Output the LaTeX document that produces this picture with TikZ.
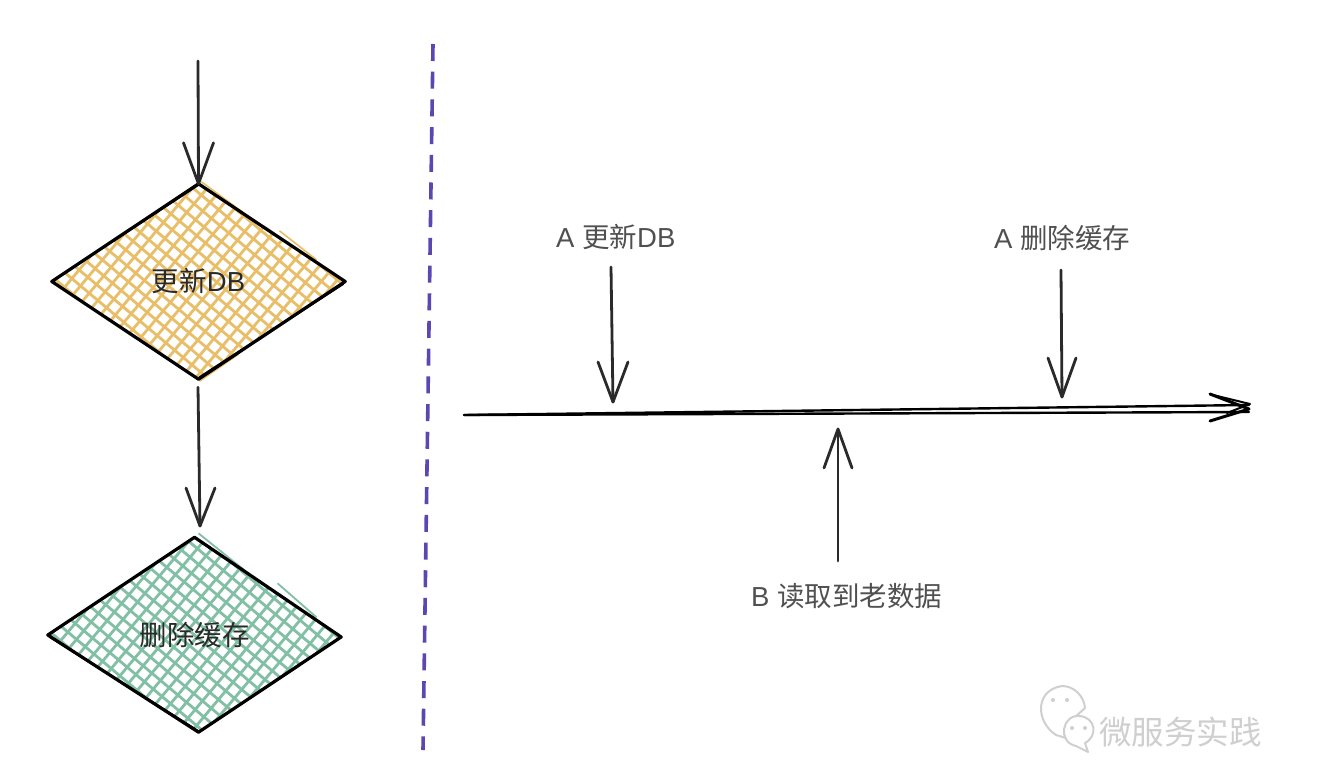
\documentclass[tikz,border=0pt]{standalone}
\usepackage{fontspec}
\setmainfont{Liberation Sans}
\newfontfamily\cjk{Noto Sans CJK SC}
\usetikzlibrary{shapes.geometric,calc}
\definecolor{inkc}{HTML}{2A2A2A}
\definecolor{labelc}{HTML}{505050}
\definecolor{orangeh}{HTML}{E9BE68}
\definecolor{greenh}{HTML}{82C0A6}
\definecolor{purplec}{HTML}{5B46B2}
\definecolor{markc}{HTML}{CFCFCF}
\tikzset{
  x=1pt,y=-1pt,
  shapebox/.style={diamond,inner sep=0pt,aspect=1.5,minimum width=293pt,minimum height=195pt,font=\fontsize{27.5}{30}\selectfont,text=inkc},
  outline/.style={draw=black,line width=3.2pt,line join=round,line cap=round},
  outlinethin/.style={draw=black,line width=2pt,line cap=round},
  sketch/.style={draw=inkc,line width=2.8pt,line cap=round,line join=round},
  timeline/.style={draw=black,line width=2.4pt,line cap=round,line join=round},
  hatchline/.style={line width=2.8pt},
  caption/.style={font=\fontsize{27.5}{30}\selectfont,text=labelc,inner sep=0pt},
  divider/.style={draw=purplec,line width=3.6pt,dash pattern=on 17pt off 10.7pt},
  bubble/.style={draw=markc,line width=2pt,fill=white,line join=round},
}
\newcommand{\hatchgrid}[1]{%
  \foreach \i in {-16,...,16}{
    \draw[hatchline,draw=#1] (-170,{\i*14.8-143}) -- (170,{\i*14.8+143});
    \draw[hatchline,draw=#1] (-170,{\i*17.6+5+202}) -- (170,{\i*17.6+5-202});
  }}
\begin{document}
\begin{tikzpicture}
\useasboundingbox (0,0) rectangle (1326,784);
\fill[white] (0,0) rectangle (1326,784);

% diamonds
\node[shapebox] (d1) at (198.5,281.5) {};
\node[shapebox] (d2) at (194.5,635) {};
\coordinate (d2b) at ($(d2.south)+(4,-0.5)$);
\coordinate (d2r) at ($(d2.east)+(0,2)$);

\begin{scope}
  \clip (d1.north) -- (d1.east) -- (d1.south) -- (d1.west) -- cycle;
  \begin{scope}[shift={(d1.center)}]\hatchgrid{orangeh}\end{scope}
\end{scope}
\begin{scope}
  \clip (d2.north) -- (d2r) -- (d2b) -- (d2.west) -- cycle;
  \begin{scope}[shift={(d2.center)}]\hatchgrid{greenh}\end{scope}
\end{scope}
% stray hatch strokes beyond the outlines
\draw[draw=orangeh,line width=1.6pt] ($(d1.north)+(3,-2)$) -- ($(d1.north)+(45,29)$);
\draw[draw=orangeh,line width=1.6pt] ($(d1.north)+(81,47)$) -- ($(d1.north)+(118,76)$);
\draw[draw=orangeh,line width=1.6pt] ($(d1.south)+(1,2)$) -- ($(d1.south)+(40,-25)$);
\draw[draw=greenh,line width=1.8pt] ($(d2.north)+(4,-4)$) -- ($(d2.north)+(50,33)$);
\draw[draw=greenh,line width=1.8pt] ($(d2.north)+(83,46)$) -- ($(d2.north)+(122,80)$);

\draw[outline] (d1.west) -- (d1.north) -- (d1.east) -- (d1.south) -- cycle;
\draw[outlinethin] ($(d1.east)+(-2,2.5)$) -- ($(d1.south)+(1,-2)$);
\draw[outlinethin] ($(d1.west)+(1,-1)$) -- ($(d1.north)+(0,1)$);
\draw[outline] (d2.west) -- (d2.north) -- (d2r) -- (d2b) -- cycle;
\draw[outlinethin] ($(d2.west)+(2,2)$) -- ($(d2b)+(0,-1)$);

\node[shapebox,fill=none] at (d1.center) {\cjk 更新\rmfamily DB};
\node[shapebox,fill=none] at (d2.center) {\cjk 删除缓存};

% left arrows
\coordinate (startA) at (198,61);
\draw[sketch] (startA) -- (d1.north);
\draw[sketch] ($(d1.north)+(-15,-41)$) -- (d1.north) -- ($(d1.north)+(15,-41)$);
\coordinate (tipB) at (200,526);
\draw[sketch] ($(d1.south)+(-0.5,8)$) -- (tipB);
\draw[sketch] (186,488) -- (tipB) -- (215,488);

% divider
\coordinate (divT) at (433,44);
\coordinate (divB) at (423,750);
\draw[divider] (divT) -- (divB);

% timeline
\coordinate (tlS) at (464,415);
\coordinate (tlE) at (1249,409);
\draw[timeline] (tlS) -- ($(tlE)+(0,3)$);
\draw[timeline] (tlS) -- ($(tlE)+(0,-4)$);
\draw[timeline,line width=3pt] ($(tlE)+(-39,-15)$) -- (tlE) -- ($(tlE)+(-39,12)$);
\draw[timeline,line width=2pt] ($(tlE)+(-36,-14)$) -- ($(tlE)+(1,-5)$) -- ($(tlE)+(-22,4)$);

% captions
\node[caption,anchor=base west] (capA) at (556,247) {A \cjk 更新\rmfamily DB};
\node[caption,anchor=base west] (capD) at (994,248) {A \cjk 删除缓存};
\node[caption,anchor=base west] (capB) at (751,606) {B \cjk 读取到老数据};

% timeline arrows
\coordinate (upA) at (611,267);
\coordinate (tipA) at (613,402);
\draw[sketch] (upA) -- (tipA);
\draw[sketch] (598,362) -- (tipA) -- (628,362);
\coordinate (upD) at (1061,270);
\coordinate (tipD) at (1062,397);
\draw[sketch] (upD) -- (tipD);
\draw[sketch] (1048,358) -- (tipD) -- (1076,358);
\coordinate (upB) at (838,561);
\coordinate (tipR) at (838,429);
\draw[sketch] (upB) -- (tipR);
\draw[sketch] (824,468) -- (tipR) -- (852,468);

% watermark
\path[bubble] (1052,732) .. controls (1036,718) and (1036,690) .. (1062,714-28) .. controls (1074,714-28) and (1084,696) .. (1085,708) -- (1074,718) -- (1066,738) -- (1056,735) -- cycle;
\path[bubble] (1080,716) .. controls (1062,714) and (1057,742) .. (1076,746) -- (1088,752) -- (1085,743) .. controls (1098,736) and (1096,718) .. (1080,716) -- cycle;
\fill[markc] (1053,700) circle (2) (1067,700) circle (2) (1072,728) circle (2) (1085,728) circle (2);
\node[inner sep=0pt,anchor=base west,text=markc,font=\cjk\fontsize{32.5}{36}\selectfont] (wm) at (1099,744) {微服务实践};
\end{tikzpicture}
\end{document}
